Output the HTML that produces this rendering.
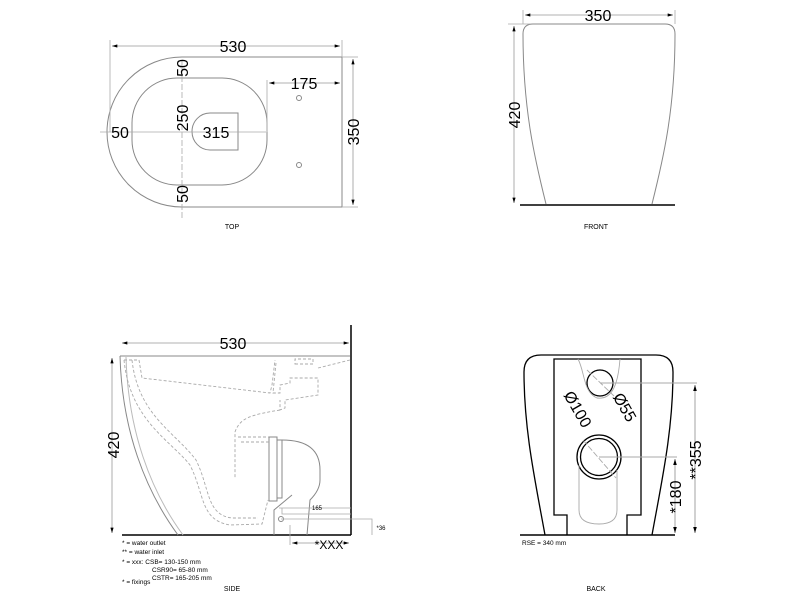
<!DOCTYPE html>
<html><head><meta charset="utf-8"><style>html,body{margin:0;padding:0;background:#fff}svg{display:block}</style></head>
<body>
<svg width="800" height="600" viewBox="0 0 800 600" xmlns="http://www.w3.org/2000/svg" font-family="Liberation Sans, sans-serif">
<defs>
<marker id="a" viewBox="0 0 10 6" refX="10" refY="3" markerWidth="8" markerHeight="4" orient="auto-start-reverse"><path d="M0,0L10,3L0,6z" fill="#000"/></marker>
</defs>
<g fill="none" stroke="#888" stroke-width="1">
<!-- TOP -->
<path d="M182,57 H342 V207 H182 A75,75 0 0 1 182,57 Z"/>
<path d="M177,78 H222 A45,45 0 0 1 267,123 V140 A45,45 0 0 1 222,185 H177 A45,45 0 0 1 132,140 V123 A45,45 0 0 1 177,78 Z"/>
<path d="M210,113 H238 V150 H210 A18,18.5 0 0 1 210,113 Z"/>
<circle cx="299" cy="98" r="2.5"/><circle cx="299" cy="165" r="2.5"/>
<!-- FRONT -->
<path d="M546,204 C535,160 523,110 523,34 Q523,24 533,24 H665 Q675,24 675,34 C675,110 663,160 652,204"/>
</g>
<g stroke="#aaa" stroke-width="0.8" fill="none">
<line x1="110" y1="40" x2="110" y2="132"/><line x1="342" y1="40" x2="342" y2="57"/>
<line x1="112" y1="46" x2="340" y2="46" marker-start="url(#a)" marker-end="url(#a)" stroke="#999"/>
<line x1="182" y1="60" x2="182" y2="220" stroke-dasharray="6,2"/>
<line x1="100" y1="132" x2="266" y2="132"/>
<line x1="267" y1="80" x2="267" y2="132"/>
<line x1="269" y1="83" x2="340" y2="83" marker-start="url(#a)" marker-end="url(#a)" stroke="#999"/>
<line x1="342" y1="57" x2="358" y2="57"/><line x1="342" y1="207" x2="358" y2="207"/>
<line x1="353" y1="59" x2="353" y2="205" marker-start="url(#a)" marker-end="url(#a)" stroke="#999"/>
<line x1="523" y1="10" x2="523" y2="24"/><line x1="675" y1="10" x2="675" y2="24"/>
<line x1="525" y1="15" x2="673" y2="15" marker-start="url(#a)" marker-end="url(#a)" stroke="#999"/>
<line x1="514" y1="26" x2="514" y2="203" marker-start="url(#a)" marker-end="url(#a)" stroke="#999"/>
<line x1="508" y1="24" x2="530" y2="24"/>
</g>
<line x1="520" y1="205" x2="675" y2="205" stroke="#000" stroke-width="1.5"/>
<g font-size="16" text-anchor="middle" fill="#000">
<text x="233" y="52">530</text>
<text x="304" y="89">175</text>
<text x="216" y="138">315</text>
<text x="120" y="138">50</text>
<text transform="translate(188,68) rotate(-90)">50</text>
<text transform="translate(188,118) rotate(-90)">250</text>
<text transform="translate(188,194) rotate(-90)">50</text>
<text transform="translate(359,132) rotate(-90)">350</text>
<text x="598" y="21">350</text>
<text transform="translate(520,115) rotate(-90)">420</text>
</g>
<g font-size="7" text-anchor="middle" fill="#000">
<text x="232" y="229">TOP</text><text x="596" y="229">FRONT</text>
<text x="232" y="591">SIDE</text><text x="596" y="591">BACK</text>
</g>
<!-- SIDE -->
<g stroke="#000" fill="none">
<line x1="351" y1="325" x2="351" y2="535" stroke-width="1.5"/>
<line x1="122" y1="535" x2="351" y2="535" stroke-width="1.5"/>
</g>
<g stroke="#888" fill="none" stroke-width="1">
<path d="M120,356 H350"/>
<path d="M120,356 C122,430 145,490 178,535"/><path d="M126,357 C128,430 150,490 183,535" stroke="#bbb"/>
<path d="M269,437 h8 v64 h-8z"/><path d="M277,440 h5 v58 h-5"/>
<path d="M282,440 Q320,440 320,470 V480 Q320,490 310,500 L307,535"/>
<path d="M292,495 L274,510 V535"/>
<circle cx="281" cy="519" r="2.5"/>
</g>
<g stroke="#aaa" fill="none" stroke-dasharray="3,2" stroke-width="0.9">
<path d="M124,360 H139 L142,378 L270,393 L272,385 L275,360 M295,364 H313 V359 H295 Z M318,368 L350,360"/>
<path d="M276,363 L273,393 L280,393 V385 L290,383 V378 L318,378 L318,395 L285,400 V408 L280,410 L280,400"/>
<path d="M124,360 C130,420 170,440 190,465 C205,495 200,520 230,525 L262,524 L268,500"/>
<path d="M132,360 C138,415 175,432 196,460 C210,488 206,515 232,518 L258,518"/>
<path d="M280,410 C250,415 240,418 235,432 V478 M238,437 H269 M241,442 H269"/>
</g>
<g stroke="#aaa" stroke-width="0.8" fill="none">
<line x1="122" y1="343" x2="349" y2="343" marker-start="url(#a)" marker-end="url(#a)" stroke="#999"/>
<line x1="112" y1="358" x2="112" y2="533" marker-start="url(#a)" marker-end="url(#a)" stroke="#999"/>
<path d="M281,519 H372 V535 M282,508 V514 H351 M279,508 H351"/>
<line x1="290" y1="525" x2="290" y2="545"/>
<line x1="292" y1="543" x2="349" y2="543" marker-start="url(#a)" marker-end="url(#a)" stroke="#999"/>
</g>
<g fill="#000" text-anchor="middle">
<text x="233" y="349" font-size="16">530</text>
<text transform="translate(119,445) rotate(-90)" font-size="16">420</text>
<text x="329" y="549" font-size="12">*XXX</text>
<text x="317" y="510" font-size="6">165</text>
<text x="381" y="530" font-size="6">*36</text>
</g>
<g font-size="6.5" fill="#000">
<text x="122" y="545">* = water outlet</text>
<text x="122" y="554">** = water inlet</text>
<text x="122" y="564">* = xxx:   CSB= 130-150 mm</text>
<text x="152" y="572">CSR90= 65-80 mm</text>
<text x="152" y="580">CSTR= 165-205 mm</text>
<text x="122" y="584">* = fixings</text>
<text x="522" y="545">RSE = 340 mm</text>
</g>
<!-- BACK -->
<g stroke="#000" fill="none" stroke-width="1.3">
<path d="M545,535 C535,480 524,430 524,372 Q524,355 541,355 H656 Q673,355 673,372 C673,430 662,480 652,535"/>
<path d="M567,535 V515 H554 V359 H641 V515 H627 V535"/>
<line x1="520" y1="535" x2="675" y2="535" stroke-width="1.6"/>
<circle cx="600" cy="383" r="13"/>
<circle cx="599" cy="457" r="22"/><circle cx="599" cy="457" r="18.5"/>
</g>
<g stroke="#aaa" fill="none" stroke-width="0.9">
<path d="M578,359 C585,372 583,392 597,398 C612,400 618,385 620,359"/>
<path d="M579,465 V510 Q579,524 599,524 Q617,524 617,510 V470"/>
<line x1="587" y1="370" x2="614" y2="396" stroke-dasharray="6,2"/>
<line x1="583" y1="440" x2="616" y2="478" stroke-dasharray="6,2"/>
<path d="M600,383 H697 M599,457 H677"/>
<line x1="695" y1="385" x2="695" y2="533" marker-start="url(#a)" marker-end="url(#a)" stroke="#999"/>
<line x1="675" y1="459" x2="675" y2="533" marker-start="url(#a)" marker-end="url(#a)" stroke="#999"/>
</g>
<g font-size="16" fill="#000" text-anchor="middle">
<text transform="translate(573,412) rotate(60)">Ø100</text>
<text transform="translate(620,410) rotate(60)">Ø55</text>
<text transform="translate(701,460) rotate(-90)">**355</text>
<text transform="translate(681,497) rotate(-90)">*180</text>
</g>
</svg>
</body></html>
